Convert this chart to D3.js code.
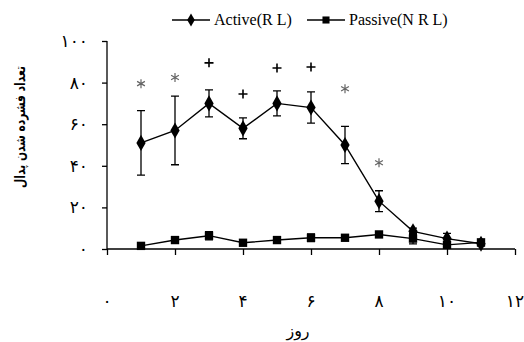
<!DOCTYPE html>
<html>
<head>
<meta charset="utf-8">
<script src="https://cdn.jsdelivr.net/npm/d3@7"></script>
<style>
body { margin: 0; background: #fff; }
svg { display: block; }
</style>
</head>
<body>
<script>
var w = 524;
var h = 342;

// Data
var days = [1, 2, 3, 4, 5, 6, 7, 8, 9, 10, 11];
var activeVals = [51, 57, 70, 58, 70, 68, 50, 23, 8.5, 5, 2.5];
var activeErr = [15.5, 16.5, 6.5, 5, 6, 7.5, 9, 5, 1.5, 2.5, 1];
var passiveVals = [1.5, 4.3, 6.4, 3, 4.3, 5.4, 5.4, 7, 5, 2, 3.2];
var passiveErr = [0.8, 1, 2, 0.8, 1, 1.8, 1.2, 1, 2.5, 1, 1];
var marks = ["*", "*", "+", "+", "+", "+", "*", "*"];
var markDays = [1, 2, 3, 4, 5, 6, 7, 8];
var markVals = [79.5, 82.5, 89.5, 74.5, 87, 87.5, 77, 41.5];
var yTicks = [0, 20, 40, 60, 80, 100];
var xTicks = [0, 2, 4, 6, 8, 10, 12];
var seriesNames = ["Active(R L)", "Passive(N R L)"];

var faDigits = "۰۱۲۳۴۵۶۷۸۹";
function fa(n) {
	return String(n).replace(/[0-9]/g, function(c) { return faDigits[+c]; });
}

var x = d3.scaleLinear().domain([0, 12]).range([107, 515]);
var y = d3.scaleLinear().domain([0, 100]).range([249, 41]);

var svg = d3.select("body")
	.append("svg")
	.attr("width", w)
	.attr("height", h);

// y axis
var yAxis = svg.append("g")
	.attr("transform", "translate(107,0)")
	.call(d3.axisLeft(y).tickValues(yTicks).tickSize(5).tickFormat(""));
yAxis.select(".domain").attr("d", "M0," + y(100) + "V" + y(0));

svg.selectAll(".ylab")
	.data(yTicks)
	.enter()
	.append("text")
	.attr("class", "ylab")
	.attr("x", 88)
	.attr("y", function(d) { return y(d) + 6; })
	.attr("text-anchor", "end")
	.attr("font-family", "DejaVu Sans")
	.attr("font-size", 17)
	.text(function(d) { return fa(d); });

// x axis
var xAxis = svg.append("g")
	.attr("transform", "translate(0," + y(0) + ")")
	.call(d3.axisBottom(x).tickValues(xTicks).tickSize(6).tickSizeOuter(0).tickFormat(""));
xAxis.select(".domain").attr("d", "M" + x(0) + ",0H" + x(12));
svg.selectAll(".domain, .tick line").attr("stroke", "#000").attr("stroke-width", 1.3);

svg.selectAll(".xlab")
	.data(xTicks)
	.enter()
	.append("text")
	.attr("class", "xlab")
	.attr("x", function(d) { return x(d); })
	.attr("y", 307)
	.attr("text-anchor", "middle")
	.attr("font-family", "DejaVu Sans")
	.attr("font-size", 17)
	.text(function(d) { return fa(d); });

svg.append("text")
	.attr("x", 298)
	.attr("y", 336)
	.attr("text-anchor", "middle")
	.attr("font-family", "DejaVu Sans")
	.attr("font-size", 16)
	.text("روز");

svg.append("text")
	.attr("transform", "translate(25,127) rotate(-90)")
	.attr("text-anchor", "middle")
	.attr("font-family", "DejaVu Sans")
	.attr("font-weight", "bold")
	.attr("font-size", 14)
	.attr("textLength", 122)
	.attr("lengthAdjust", "spacingAndGlyphs")
	.text("تعداد فشرده شدن پدال");

// series
function drawSeries(vals, errs, shape) {
	var pts = days.map(function(d, i) { return { d: d, v: vals[i], e: errs[i] }; });
	var g = svg.append("g");
	g.selectAll(".err")
		.data(pts)
		.enter()
		.append("path")
		.attr("fill", "none")
		.attr("stroke", "#000")
		.attr("stroke-width", 1.3)
		.attr("d", function(p) {
			var cx = x(p.d), t = y(p.v + p.e), b = y(Math.max(0, p.v - p.e));
			return "M" + (cx - 4) + "," + t + "H" + (cx + 4) + "M" + cx + "," + t + "V" + b +
				"M" + (cx - 4) + "," + b + "H" + (cx + 4);
		});
	g.append("path")
		.datum(pts)
		.attr("fill", "none")
		.attr("stroke", "#000")
		.attr("stroke-width", 1.4)
		.attr("d", d3.line().x(function(p) { return x(p.d); }).y(function(p) { return y(p.v); }));
	g.selectAll(".pt")
		.data(pts)
		.enter()
		.append("path")
		.attr("transform", function(p) { return "translate(" + x(p.d) + "," + y(p.v) + ")"; })
		.attr("d", d3.symbol().type(shape).size(shape === d3.symbolDiamond ? 75 : 70))
		.attr("fill", "#000");
}
drawSeries(passiveVals, passiveErr, d3.symbolSquare);
drawSeries(activeVals, activeErr, d3.symbolDiamond);

// significance marks, drawn as strokes
function markPath(m) {
	if (m === "+") return "M-4.5,0H4.5M0,-4.5V4.5";
	var r = 4.5, s = "";
	[90, 30, 150].forEach(function(a) {
		var dx = r * Math.cos(a * Math.PI / 180), dy = r * Math.sin(a * Math.PI / 180);
		s += "M" + (-dx) + "," + (-dy) + "L" + dx + "," + dy;
	});
	return s;
}
svg.selectAll(".mark")
	.data(markDays)
	.enter()
	.append("path")
	.attr("transform", function(d, i) { return "translate(" + x(d) + "," + y(markVals[i]) + ")"; })
	.attr("d", function(d, i) { return markPath(marks[i]); })
	.attr("fill", "none")
	.attr("stroke", function(d, i) { return marks[i] === "*" ? "#666" : "#000"; })
	.attr("stroke-width", function(d, i) { return marks[i] === "*" ? 1.2 : 1.6; });

// legend
var legX = [172, 307];
var legShapes = [d3.symbolDiamond, d3.symbolSquare];
var leg = svg.selectAll(".leg")
	.data(seriesNames)
	.enter()
	.append("g")
	.attr("transform", function(d, i) { return "translate(" + legX[i] + ",20)"; });
leg.append("line")
	.attr("x1", 0).attr("x2", 38)
	.attr("stroke", "#000").attr("stroke-width", 1.4);
leg.append("path")
	.attr("transform", "translate(19,0)")
	.attr("d", function(d, i) { return d3.symbol().type(legShapes[i]).size(50)(); })
	.attr("fill", "#000");
leg.append("text")
	.attr("x", 42)
	.attr("y", 5)
	.attr("font-family", "Liberation Serif")
	.attr("font-size", 16)
	.text(function(d) { return d; });
</script>
</body>
</html>
